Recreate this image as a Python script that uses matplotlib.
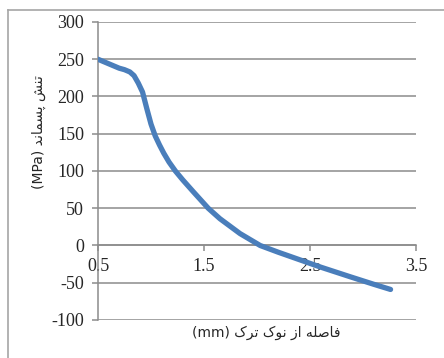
#!/usr/bin/env python3
"""Residual stress vs distance from crack tip."""

import matplotlib.pyplot as plt
from matplotlib.lines import Line2D

# distance from crack tip (mm) and residual stress (MPa)
distance_mm = [0.50, 0.55, 0.60, 0.65, 0.70, 0.75, 0.80, 0.84, 0.88, 0.92,
               0.96, 1.00, 1.04, 1.08, 1.12, 1.17, 1.23, 1.30, 1.40, 1.54,
               1.65, 1.84, 2.03, 2.20, 2.40, 2.60, 2.88, 3.10, 3.26]
stress_mpa = [250, 247, 244, 241, 238, 236, 233, 228, 218, 206,
              184, 163, 147, 135, 124, 112, 100, 88, 72, 50,
              36, 16, 0, -9, -19, -29, -42, -52, -59]

x_ticks = [0.5, 1.5, 2.5, 3.5]
y_ticks = [-100, -50, 0, 50, 100, 150, 200, 250, 300]

# Persian labels written in visual order with presentation forms
# (matplotlib does no bidi/shaping on its own)
y_label = "(MPa) " + "\uFEAA\uFEE7\uFE8E\uFEE4\uFEB4\uFB58 \uFEB6\uFEE8\uFE97"
x_label = ("(mm) " + "\uFB8E\uFEAE\uFE97 \uFB8E\uFEEE\uFEE7 \uFEAF\uFE8D "
           "\uFEEA\uFEE0\uFEBB\uFE8E\uFED3")

GRID = "#8c8c8c"
LINE = "#4a7ebb"

W, H = 444, 358
fig = plt.figure(figsize=(W / 100, H / 100), dpi=100)
fig.patch.set_facecolor("white")

# chart frame (only top and left edges are visible in the crop)
fig.add_artist(Line2D([8 / W, 1.0], [1 - 10 / H, 1 - 10 / H], color="#a6a6a6",
                      linewidth=1.2, transform=fig.transFigure))
fig.add_artist(Line2D([8 / W, 8 / W], [0.0, 1 - 10 / H], color="#a6a6a6",
                      linewidth=1.2, transform=fig.transFigure))

ax = fig.add_axes([98 / W, 1 - 320 / H, (416 - 98) / W, (320 - 22) / H])
ax.plot(distance_mm, stress_mpa, color=LINE, linewidth=3.8,
        solid_capstyle="round", solid_joinstyle="round", zorder=3)

ax.set_xlim(0.5, 3.5)
ax.set_ylim(-100, 300)
ax.set_xticks(x_ticks)
ax.set_xticklabels([f"{v:g}" for v in x_ticks])
ax.set_yticks(y_ticks)
ax.set_yticklabels([str(v) for v in y_ticks])

ax.grid(axis="y", color=GRID, linewidth=1.1)
ax.set_axisbelow(True)
for side in ("top", "right"):
    ax.spines[side].set_visible(False)
ax.spines["bottom"].set_position(("data", 0))
ax.spines["bottom"].set_color(GRID)
ax.spines["bottom"].set_linewidth(1.1)
ax.spines["left"].set_color(GRID)
ax.spines["left"].set_linewidth(1.1)

ax.tick_params(axis="both", direction="out", length=4, width=1.1, color=GRID,
               labelsize=13, labelcolor="#262626")
ax.tick_params(axis="y", pad=6)
ax.tick_params(axis="x", pad=5)
for lab in ax.get_xticklabels() + ax.get_yticklabels():
    lab.set_family("Liberation Serif")

fig.text(266 / W, 1 - 333 / H, x_label, ha="center", va="center",
         fontsize=10, family=["DejaVu Sans"], color="#262626")
fig.text(39 / W, 1 - 132 / H, y_label, ha="center", va="center",
         rotation=90, fontsize=10, family=["DejaVu Sans"], color="#262626")

fig.savefig("out.png", dpi=100)
